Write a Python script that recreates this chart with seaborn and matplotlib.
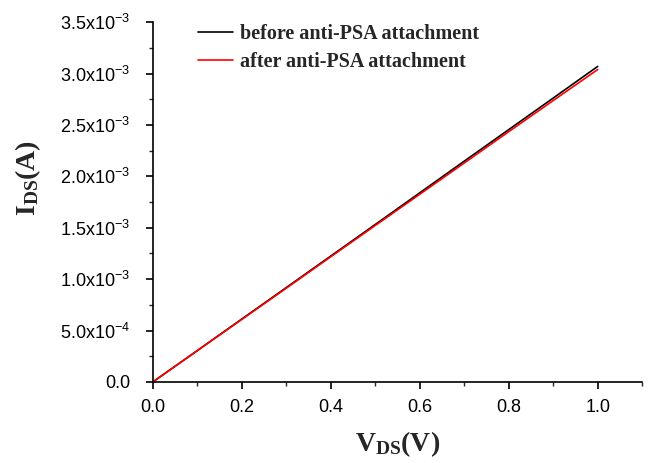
import matplotlib
matplotlib.use("Agg")
import matplotlib.pyplot as plt
import seaborn as sns
import pandas as pd
import numpy as np
from matplotlib.ticker import FixedLocator, MultipleLocator

vds = [0.0, 0.1, 0.2, 0.3, 0.4, 0.5, 0.6, 0.7, 0.8, 0.9, 1.0]
before = [0.0, 0.305e-3, 0.612e-3, 0.918e-3, 1.225e-3, 1.532e-3, 1.840e-3, 2.148e-3, 2.455e-3, 2.762e-3, 3.07e-3]
after = [0.0, 0.304e-3, 0.608e-3, 0.912e-3, 1.218e-3, 1.522e-3, 1.826e-3, 2.130e-3, 2.435e-3, 2.738e-3, 3.04e-3]
labels = ["before anti-PSA attachment", "after anti-PSA attachment"]
yticks = [0.0, 0.5e-3, 1.0e-3, 1.5e-3, 2.0e-3, 2.5e-3, 3.0e-3, 3.5e-3]
yticklabels = ["0.0", r"5.0x10$^{-4}$", r"1.0x10$^{-3}$", r"1.5x10$^{-3}$", r"2.0x10$^{-3}$",
               r"2.5x10$^{-3}$", r"3.0x10$^{-3}$", r"3.5x10$^{-3}$"]
xticks = [0.0, 0.2, 0.4, 0.6, 0.8, 1.0]

sns.set_style("ticks")
plt.rcParams["font.family"] = ["Liberation Sans", "DejaVu Sans"]
plt.rcParams["mathtext.default"] = "regular"

df = pd.DataFrame({
    "V": vds * 2,
    "I": before + after,
    "series": [labels[0]] * len(vds) + [labels[1]] * len(vds),
})

fig = plt.figure(figsize=(6.5, 4.63), dpi=100)
ax = fig.add_axes([0.235, 0.175, 0.753, 0.777])
sns.lineplot(data=df, x="V", y="I", hue="series", palette=["black", "red"],
             linewidth=1.2, ax=ax, legend=True)

ax.set_xlim(0, 1.1)
ax.set_ylim(0, 3.5e-3)
ax.set_xticks(xticks)
ax.set_xticklabels(["0.0", "0.2", "0.4", "0.6", "0.8", "1.0"])
ax.xaxis.set_minor_locator(MultipleLocator(0.1))
ax.set_yticks(yticks)
ax.set_yticklabels(yticklabels)
ax.yaxis.set_minor_locator(MultipleLocator(0.25e-3))
ax.tick_params(which="major", direction="out", length=5, width=1.2, labelsize=13,
               colors="black")
ax.tick_params(axis="x", which="major", pad=7)
ax.tick_params(axis="y", which="major", pad=11)
ax.tick_params(which="minor", direction="out", length=3, width=1.0)
for s in ["top", "right"]:
    ax.spines[s].set_visible(False)
for s in ["left", "bottom"]:
    ax.spines[s].set_linewidth(1.2)
    ax.spines[s].set_color("black")

serif = {"family": ["Liberation Serif", "DejaVu Serif"], "weight": "bold"}
ax.set_xlabel(r"V$_{DS}$(V)", fontdict=serif, fontsize=20, labelpad=10)
ax.set_ylabel(r"I$_{DS}$(A)", fontdict=serif, fontsize=20)
ax.yaxis.set_label_coords(-0.224, 0.567)

leg = ax.legend(loc="upper left", bbox_to_anchor=(0.076, 1.017), frameon=False,
                borderaxespad=0, handlelength=1.75, handletextpad=0.35, labelspacing=0.4,
                prop={"family": "Liberation Serif", "weight": "bold", "size": 14.5})

fig.savefig("out.png", dpi=100)
